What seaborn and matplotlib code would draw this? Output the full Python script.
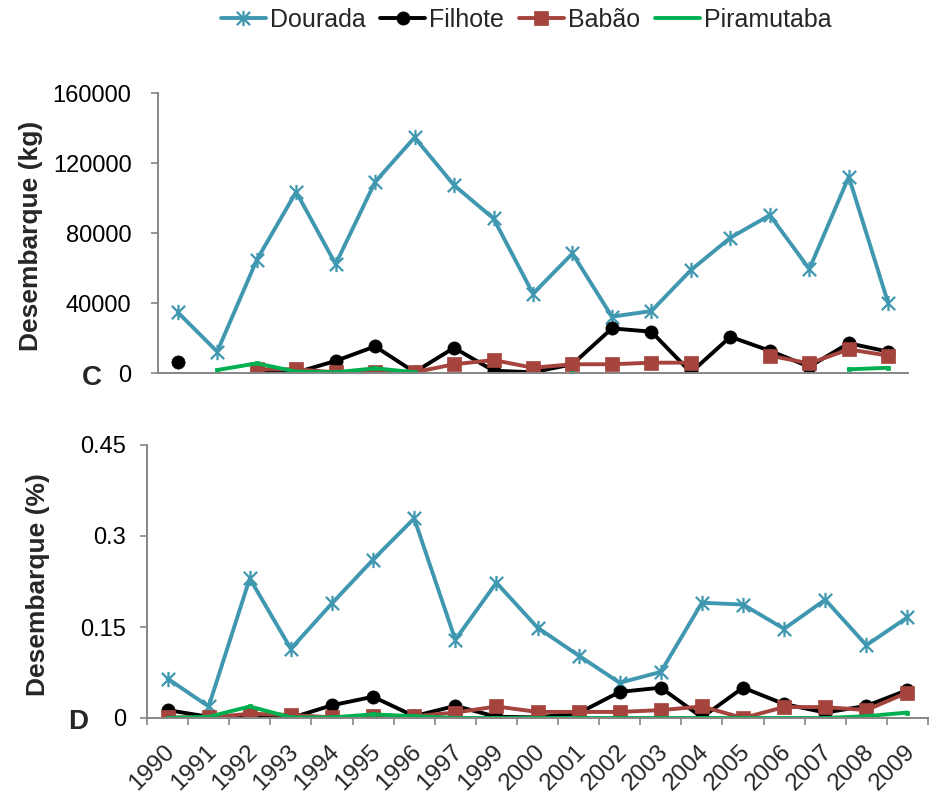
import numpy as np
import pandas as pd
import matplotlib
matplotlib.use("Agg")
import matplotlib.pyplot as plt
import matplotlib.transforms as mtransforms
from matplotlib.path import Path
from matplotlib.lines import Line2D
from matplotlib.ticker import FixedLocator
import seaborn as sns

# ---------------- data ----------------
years = ["1990", "1991", "1992", "1993", "1994", "1995", "1996", "1997", "1999",
         "2000", "2001", "2002", "2003", "2004", "2005", "2006", "2007", "2008", "2009"]
series_names = ["Dourada", "Filhote", "Babão", "Piramutaba"]

nan = np.nan
# Panel C: landings (kg)
kg_dourada = [34700, 12200, 64500, 103500, 62200, 109200, 134600, 107300, 88300,
              45300, 68300, 32200, 35400, 58800, 77300, 90200, 59400, 112100, 39800]
kg_filhote = [6500, nan, 500, 300, 6900, 15200, 500, 14400, 1300,
              400, 5000, 25500, 23600, 300, 20700, 12700, 3600, 17000, 12200]
kg_babao = [nan, nan, 2100, 2100, 400, 400, 400, 5000, 7400,
            3000, 5000, 5000, 5900, 5900, nan, 9900, 5500, 13500, 9900]
kg_piramutaba = [nan, 1700, 5500, 800, 400, 2700, 400, nan, nan,
                 nan, 0, nan, nan, nan, nan, nan, nan, 2100, 3000]

# Panel D: landings (%)
pct_dourada = [0.065, 0.019, 0.230, 0.114, 0.189, 0.261, 0.329, 0.129, 0.223,
               0.149, 0.103, 0.058, 0.076, 0.190, 0.187, 0.147, 0.195, 0.120, 0.166]
pct_filhote = [0.013, 0.002, 0.000, 0.000, 0.021, 0.035, 0.003, 0.020, 0.002,
               0.001, 0.008, 0.043, 0.050, 0.001, 0.050, 0.023, 0.009, 0.020, 0.046]
pct_babao = [0.001, 0.001, 0.007, 0.005, 0.001, 0.003, 0.003, 0.009, 0.019,
             0.010, 0.010, 0.010, 0.013, 0.019, 0.000, 0.018, 0.018, 0.013, 0.042]
pct_piramutaba = [0.000, 0.002, 0.019, 0.001, 0.001, 0.006, 0.003, 0.000, 0.000,
                  0.000, 0.000, 0.000, 0.000, 0.000, 0.000, 0.000, 0.000, 0.003, 0.009]

kg_ticks = [0, 40000, 80000, 120000, 160000]
kg_ticklabels = ["0", "40000", "80000", "120000", "160000"]
pct_ticks = [0, 0.15, 0.30, 0.45]
pct_ticklabels = ["0", "0.15", "0.3", "0.45"]

# ---------------- style ----------------
sns.set_style("white")
plt.rcParams["font.family"] = ["Liberation Sans", "DejaVu Sans"]

colors = {"Dourada": "#3F97B0", "Filhote": "#000000",
          "Babão": "#A5433D", "Piramutaba": "#00B050"}

star = Path([(-1, -1), (1, 1), (-1, 1), (1, -1), (0, -1.15), (0, 1.15)],
            [Path.MOVETO, Path.LINETO, Path.MOVETO, Path.LINETO, Path.MOVETO, Path.LINETO])

mstyle = {
    "Dourada": dict(marker=star, markersize=11, mfc="none", mec=colors["Dourada"], mew=1.6),
    "Filhote": dict(marker="o", markersize=9.5, mfc=colors["Filhote"], mec=colors["Filhote"], mew=0.5),
    "Babão": dict(marker="s", markersize=9.5, mfc=colors["Babão"], mec=colors["Babão"], mew=0.5),
    "Piramutaba": dict(marker="s", markersize=3.5, mfc=colors["Piramutaba"], mec=colors["Piramutaba"], mew=0.5),
}


def long_frame(vals):
    x = np.arange(len(years))
    v = np.asarray(vals, dtype=float)
    seg = np.cumsum(np.isnan(v))
    df = pd.DataFrame({"x": x, "y": v, "seg": seg})
    return df.dropna()


fig = plt.figure(figsize=(9.34, 8), dpi=100)
ax_top = fig.add_axes([158 / 934, 1 - 373 / 800, 750 / 934, 280 / 800])
ax_bot = fig.add_axes([147 / 934, 1 - 718 / 800, 781 / 934, 273 / 800])

panels = [
    (ax_top, [kg_dourada, kg_filhote, kg_babao, kg_piramutaba], kg_ticks, kg_ticklabels,
     "Desembarque (kg)"),
    (ax_bot, [pct_dourada, pct_filhote, pct_babao, pct_piramutaba], pct_ticks, pct_ticklabels,
     "Desembarque (%)"),
]

for ax, sers, yt, ytl, ylab in panels:
    for name, vals in zip(series_names, sers):
        df = long_frame(vals)
        sns.lineplot(data=df, x="x", y="y", units="seg", estimator=None, ax=ax,
                     color=colors[name], linewidth=2.8, legend=False, sort=False,
                     **mstyle[name])
    ax.set_xlim(-0.5, len(years) - 0.5)
    ax.set_ylim(yt[0], yt[-1])
    ax.set_yticks(yt)
    ax.set_yticklabels(ytl)
    ax.set_xlabel("")
    ax.set_ylabel(ylab, fontsize=19, fontweight="bold")
    for s in ["top", "right"]:
        ax.spines[s].set_visible(False)
    for s in ["left", "bottom"]:
        ax.spines[s].set_color("#868686")
        ax.spines[s].set_linewidth(1.4)
    ax.tick_params(axis="y", which="major", direction="out", length=5, width=1.2,
                   color="#868686", labelsize=17, labelcolor="black", left=True)
    ax.set_facecolor("white")

# top panel: no x ticks
ax_top.set_xticks([])
ax_top.tick_params(axis="y", pad=14)
ax_top.yaxis.set_label_coords((43 - 158) / 750, (373 - 236) / 280)

# bottom panel: category labels and boundary ticks
ax_bot.set_xticks(np.arange(len(years)))
ax_bot.set_xticklabels(years, rotation=45, ha="right", va="center",
                       rotation_mode="anchor", fontsize=17.5)
ax_bot.xaxis.set_minor_locator(FixedLocator(np.arange(len(years) + 1) - 0.5))
ax_bot.tick_params(axis="x", which="major", length=0, pad=22)
ax_bot.tick_params(axis="x", which="minor", direction="out", length=5, width=1.2,
                   color="#868686", bottom=True)
ax_bot.tick_params(axis="y", pad=10)
offset = mtransforms.ScaledTranslation(4 / 100, 0, fig.dpi_scale_trans)
for lab in ax_bot.get_xticklabels():
    lab.set_transform(lab.get_transform() + offset)
ax_bot.yaxis.set_label_coords((50 - 147) / 781, (718 - 585) / 273)

# panel letters
fig.text(92 / 934, 1 - 378 / 800, "C", fontsize=20, fontweight="bold", ha="center", va="center")
fig.text(78 / 934, 1 - 722 / 800, "D", fontsize=20, fontweight="bold", ha="center", va="center")

# legend
handles = []
for name in series_names:
    st = dict(mstyle[name])
    if name == "Piramutaba":
        st = dict(marker=None)
    handles.append(Line2D([0], [0], color=colors[name], linewidth=2.8, **st))
fig.legend(handles, series_names, loc="center", bbox_to_anchor=(526 / 934, 1 - 20 / 800),
           ncol=4, frameon=False, fontsize=18, handlelength=1.8, handletextpad=0.15,
           columnspacing=0.6, borderaxespad=0)

fig.savefig("out.png", dpi=100, facecolor="white")
